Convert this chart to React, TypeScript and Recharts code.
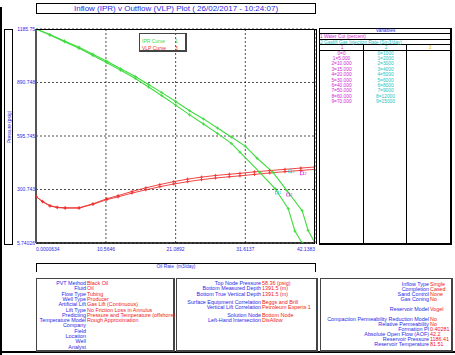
import React from 'react';
import { ComposedChart, Line, Scatter, XAxis, YAxis, CartesianGrid } from 'recharts';

// axis ticks as printed on the plot
const X_TICKS = [0.0000634, 10.5646, 21.0892, 31.6137, 42.1383];
const X_TICK_LABELS = ['0.0000634', '10.5646', '21.0892', '31.6137', '42.1383'];
const Y_TICKS = [5.74026, 300.743, 595.745, 890.748, 1185.75];
const Y_TICK_LABELS = ['5.74026', '300.743', '595.745', '890.748', '1185.75'];

// IPR curves (oil rate m3/day, pressure psig)
const iprARate = [0, 2.1, 4.3, 6.5, 8.6, 10.7, 12.8, 15.0, 17.0, 19.0, 21.1, 23.2, 25.3, 27.4, 29.5, 31.6, 33.4, 35.8, 37.9, 40.2, 41.1, 42.1383];
const iprAPres = [1185.75, 1155, 1120, 1085, 1047, 1008, 966, 924, 880, 835, 786, 735, 690, 640, 590, 540, 473, 395, 295, 184, 75, 5.74026];
const iprBRate = [0, 2.1, 4.3, 6.5, 8.6, 10.7, 12.8, 15.0, 17.0, 19.0, 21.1, 23.2, 25.3, 27.4, 29.5, 30.8, 33.8, 36.1, 38.1, 39.1, 40.2];
const iprBPres = [1185.75, 1152, 1116, 1079, 1040, 1000, 958, 913, 866, 818, 766, 712, 662, 610, 555, 507, 395, 306, 195, 72, 5.74026];

// VLP curves
const vlpRate = [0, 1.0, 2.1, 3.2, 4.4, 6.5, 8.6, 10.7, 12.4, 14.5, 16.6, 18.7, 20.8, 22.9, 25.0, 27.1, 29.2, 30.8, 33.0, 35.3, 37.6, 40.0, 42.1383];
const vlpAPres = [262, 235, 212, 203, 200, 200, 222, 250, 267, 290, 310, 328, 344, 358, 369, 378, 385, 390, 398, 405, 412, 419, 425];
const vlpBPres = [262, 233, 210, 201, 198, 198, 219, 245, 260, 281, 299, 316, 331, 344, 355, 364, 371, 376, 384, 392, 399, 406, 412];

// solution point markers
const solRate = [38.4, 40.2, 36.4, 38.1];
const solPres = [401, 390, 284, 273];
const solTag = ['1', '2', '1', '2'];

const waterCut = ['0', '5.000', '10.000', '15.000', '20.000', '30.000', '40.000', '50.000', '60.000', '70.000'];
const gasInjection = ['1000', '2000', '3000', '4000', '5000', '6000', '8000', '9000', '12000', '15000'];

const box1Rows = [
  ['PVT Method', 'Black Oil'],
  ['Fluid', 'Oil'],
  ['Flow Type', 'Tubing'],
  ['Well Type', 'Producer'],
  ['Artificial Lift', 'Gas Lift (Continuous)'],
  ['Lift Type', 'No Friction Loss in Annulus'],
  ['Predicting', 'Pressure and Temperature (offshore)'],
  ['Temperature Model', 'Rough Approximation'],
  ['Company', ''],
  ['Field', ''],
  ['Location', ''],
  ['Well', ''],
  ['Analyst', ''],
];
const box2Rows = [
  ['Top Node Pressure', '58.36 (psig)'],
  ['Bottom Measured Depth', '1391.5 (m)'],
  ['Bottom True Vertical Depth', '1391.5 (m)'],
  null,
  ['Surface Equipment Correlation', 'Beggs and Brill'],
  ['Vertical Lift Correlation', 'Petroleum Experts 1'],
  null,
  ['Solution Node', 'Bottom Node'],
  ['Left-Hand Intersection', 'DisAllow'],
];
const box3Rows = [
  ['Inflow Type', 'Single'],
  ['Completion', 'Cased'],
  ['Sand Control', 'None'],
  ['Gas Coning', 'No'],
  null,
  ['Reservoir Model', 'Vogel'],
  null,
  ['Compaction Permeability Reduction Model', 'No'],
  ['Relative Permeability', 'No'],
  ['Formation PI', '0.40281'],
  ['Absolute Open Flow (AOF)', '42.2'],
  ['Reservoir Pressure', '1186.41'],
  ['Reservoir Temperature', '81.51'],
];

const BLUE = '#2a2ae6';
const RED_TXT = '#f02020';
const MAGENTA = '#d21fd2';
const CYAN = '#22c4c4';
const YELLOW = '#e6c000';
const GREEN = '#3ddc3d';
const RED = '#ee3030';
const FONT = '"Liberation Sans", Arial, sans-serif';

const toPoints = (rate: number[], pres: number[]) => rate.map((q, i) => ({ q, p: pres[i] }));
const iprA = toPoints(iprARate, iprAPres);
const iprB = toPoints(iprBRate, iprBPres);
const vlpA = toPoints(vlpRate, vlpAPres);
const vlpB = toPoints(vlpRate, vlpBPres);
const solutions = solRate.map((q, i) => ({ q, p: solPres[i], tag: solTag[i] }));

const crossDot = (color: string) => (props: any) => {
  const { cx, cy, index } = props;
  if (cx == null || cy == null) return <g key={index} />;
  return (
    <path key={index} d={`M${cx - 1.6},${cy}h3.2M${cx},${cy - 1.6}v3.2`} stroke={color} strokeWidth={0.8} fill="none" />
  );
};

const YTick = (props: any) => {
  const { x, y, payload } = props;
  const i = Y_TICKS.indexOf(payload.value);
  return (
    <text x={x} y={y} dy={1.8} textAnchor="end" fontSize={5} fill={BLUE} fontFamily={FONT}>
      {i >= 0 ? Y_TICK_LABELS[i] : payload.value}
    </text>
  );
};

const XTick = (props: any) => {
  const { x, y, payload } = props;
  const i = X_TICKS.indexOf(payload.value);
  const anchor = i === 0 ? 'start' : i === X_TICKS.length - 1 ? 'end' : 'middle';
  return (
    <text x={x} y={y} dy={7.5} textAnchor={anchor} fontSize={5} fill={BLUE} fontFamily={FONT}>
      {i >= 0 ? X_TICK_LABELS[i] : payload.value}
    </text>
  );
};

const SolutionShape = (props: any) => {
  const { cx, cy, payload } = props;
  const c = payload.tag === '1' ? CYAN : MAGENTA;
  return (
    <g>
      <rect x={cx - 1.5} y={cy - 1.5} width={3} height={3} fill="none" stroke={c} strokeWidth={0.6} />
      <text x={cx + 2} y={cy + 1.8} fontSize={4} fill={c} fontFamily={FONT}>{payload.tag}</text>
    </g>
  );
};

const abs = (left: number, top: number, width: number, height: number, extra: React.CSSProperties = {}): React.CSSProperties => ({
  position: 'absolute', left, top, width, height, boxSizing: 'border-box', ...extra,
});

const InfoBox = ({ left, top, width, height, labelRight, startY, step, rows }: any) => {
  let slot = 0;
  const items: React.ReactNode[] = [];
  rows.forEach((r: any, i: number) => {
    if (!r) { slot += 0.5; return; }
    const cy = startY + slot * step;
    items.push(
      <span key={`l${i}`} style={{ position: 'absolute', right: 455 - labelRight, top: cy - 3, lineHeight: '6px', fontSize: 5.4, color: BLUE, whiteSpace: 'nowrap' }}>{r[0]}</span>,
      <span key={`v${i}`} style={{ position: 'absolute', left: labelRight + 1, top: cy - 3, lineHeight: '6px', fontSize: 5.4, color: RED_TXT, whiteSpace: 'nowrap' }}>{r[1]}</span>,
    );
    slot += 1;
  });
  return (
    <>
      <div style={abs(left, top, width, height, { border: '2px solid #444', borderTopWidth: 1, borderLeftWidth: 1 })} />
      {items}
    </>
  );
};

const App: React.FC = () => {
  const rowH = 5.4;
  return (
    <div style={{ position: 'absolute', left: 0, top: 0, width: 455, height: 355, background: '#fff', overflow: 'hidden', fontFamily: FONT }}>
      {/* page frame */}
      <div style={abs(0, 7, 2, 348, { background: '#000' })} />
      <div style={abs(0, 351, 455, 2, { background: '#000' })} />

      {/* title */}
      <div style={abs(36, 3, 280, 11, { border: '1px solid #000', color: BLUE, fontSize: 8, lineHeight: '9px', textAlign: 'center', whiteSpace: 'nowrap' })}>
        Inflow (IPR) v Outflow (VLP) Plot ( 26/02/2017 - 10:24:07)
      </div>

      {/* y axis caption */}
      <div style={abs(4, 29, 9, 216, { border: '1px solid #000' })}>
        <div style={{ position: 'absolute', left: 3.5, top: 97, transform: 'translate(-50%, -50%) rotate(-90deg)', fontSize: 4.8, color: BLUE, whiteSpace: 'nowrap' }}>
          Pressure (psig)
        </div>
      </div>

      <div style={{ position: 'absolute', left: 0, top: 0 }}>
        <ComposedChart width={455} height={355} margin={{ top: 29, right: 140, bottom: 92, left: 0 }}>
          <CartesianGrid stroke="#222" strokeDasharray="2 2" strokeWidth={0.8} />
          <XAxis
            type="number"
            dataKey="q"
            domain={[X_TICKS[0], X_TICKS[X_TICKS.length - 1]]}
            ticks={X_TICKS}
            interval={0}
            height={20}
            tickSize={0}
            tickMargin={0}
            tickLine={false}
            allowDataOverflow
            axisLine={{ stroke: '#000', strokeWidth: 1.5 }}
            tick={<XTick />}
          />
          <YAxis
            type="number"
            dataKey="p"
            domain={[Y_TICKS[0], Y_TICKS[Y_TICKS.length - 1]]}
            ticks={Y_TICKS}
            interval={0}
            width={36}
            tickSize={0}
            tickMargin={1}
            tickLine={false}
            allowDataOverflow
            axisLine={{ stroke: '#555', strokeWidth: 2 }}
            tick={<YTick />}
          />
          <Line data={vlpB} dataKey="p" type="linear" stroke={RED} strokeWidth={0.9} dot={crossDot(RED)} isAnimationActive={false} />
          <Line data={vlpA} dataKey="p" type="linear" stroke={RED} strokeWidth={0.9} dot={crossDot(RED)} isAnimationActive={false} />
          <Line data={iprB} dataKey="p" type="linear" stroke={GREEN} strokeWidth={1.1} dot={crossDot(GREEN)} isAnimationActive={false} />
          <Line data={iprA} dataKey="p" type="linear" stroke={GREEN} strokeWidth={1.1} dot={crossDot(GREEN)} isAnimationActive={false} />
          <Scatter data={solutions} dataKey="p" shape={<SolutionShape />} isAnimationActive={false} />
        </ComposedChart>
      </div>

      {/* top and right edges of the plot frame */}
      <div style={abs(36, 28.5, 281, 215, { borderTop: '1px solid #000', borderRight: '3px double #000', pointerEvents: 'none' })} />

      {/* legend */}
      <div style={abs(139, 33, 48, 19, { border: '1px solid #444', borderRightWidth: 2, borderBottomWidth: 2, fontSize: 5, lineHeight: '6px' })}>
        <span style={{ position: 'absolute', left: 2, top: 4, color: GREEN }}>IPR Curve</span>
        <span style={{ position: 'absolute', left: 35, top: 4, color: GREEN }}>1</span>
        <span style={{ position: 'absolute', left: 2, top: 11, color: RED }}>VLP Curve</span>
        <span style={{ position: 'absolute', left: 35, top: 11, color: RED }}>3</span>
      </div>

      {/* x axis caption */}
      <div style={abs(36, 263, 280, 9, { border: '1px solid #000', borderBottomWidth: 0, fontSize: 4.8, lineHeight: '6px', textAlign: 'center', color: BLUE })}>
        Oil Rate&nbsp;&nbsp;(m3/day)
      </div>

      {/* variables panel */}
      <div style={abs(319, 28, 133, 217, { border: '1px solid #000', borderRightWidth: 2, borderBottomWidth: 2 })} />
      <div style={abs(320, 29, 131, 5, { borderBottom: '1px solid #000', fontSize: 4.8, lineHeight: '4px', textAlign: 'center', color: BLUE })}>Variables</div>
      <div style={abs(320, 34, 131, 5.5, { borderBottom: '1px solid #000', fontSize: 4.8, lineHeight: '5px', color: MAGENTA, whiteSpace: 'nowrap' })}>1 Water Cut (percent)</div>
      <div style={abs(320, 39.5, 131, 5.5, { borderBottom: '1px solid #000', fontSize: 4.8, lineHeight: '5px', color: CYAN, whiteSpace: 'nowrap' })}>2 Gaslift Gas Injection Rate (Sm3/day)</div>
      <div style={abs(320, 45, 131, 5.5, { borderBottom: '1px solid #000' })} />
      <div style={abs(363, 45, 44, 199, { borderLeft: '1px solid #000', borderRight: '1px solid #000' })} />
      {[0, 1, 2].map(c => (
        <div key={c} style={abs(320 + c * 44, 45, 44, 5, { fontSize: 4.8, lineHeight: '5px', textAlign: 'center', color: [MAGENTA, CYAN, YELLOW][c] })}>{c + 1}</div>
      ))}
      {waterCut.map((v, i) => (
        <div key={`w${i}`} style={abs(320, 50.5 + i * rowH, 43, rowH, { fontSize: 4.8, lineHeight: `${rowH}px`, textAlign: 'center', color: MAGENTA, whiteSpace: 'nowrap' })}>{`${i}=${v}`}</div>
      ))}
      {gasInjection.map((v, i) => (
        <div key={`g${i}`} style={abs(364, 50.5 + i * rowH, 43, rowH, { fontSize: 4.8, lineHeight: `${rowH}px`, textAlign: 'center', color: CYAN, whiteSpace: 'nowrap' })}>{`${i}=${v}`}</div>
      ))}

      {/* info panels */}
      <InfoBox left={36} top={278} width={139} height={74} labelRight={86} startY={283} step={5.3} rows={box1Rows} />
      <InfoBox left={176} top={278} width={142} height={74} labelRight={261} startY={283} step={5.3} rows={box2Rows} />
      <InfoBox left={320} top={278} width={133} height={74} labelRight={429} startY={284} step={5} rows={box3Rows.flatMap(r => (r ? [r] : [null, null]))} />
    </div>
  );
};

export default App;
